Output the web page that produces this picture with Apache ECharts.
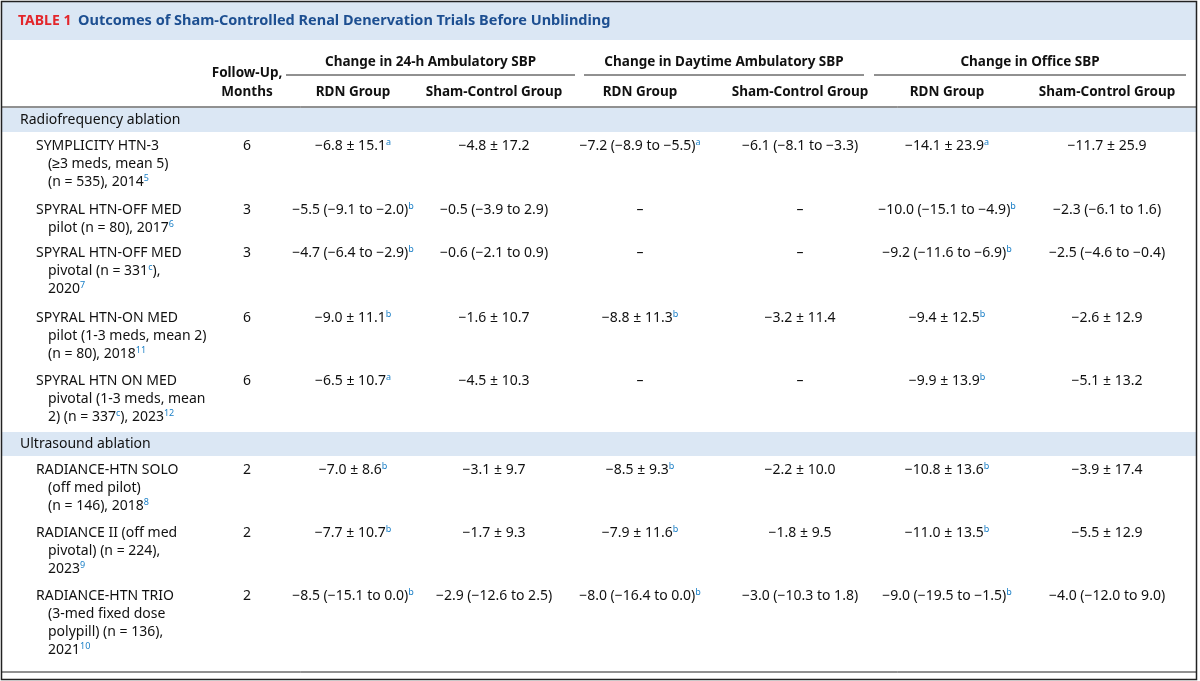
<!DOCTYPE html>
<html><head><meta charset="utf-8">
<script src="https://cdn.jsdelivr.net/npm/echarts@6/dist/echarts.min.js"></script>
<style>html,body{margin:0;background:#fff}#c{width:1200px;height:681px}</style>
</head><body><div id="c"></div>
<script>
// [x] marks a superscript
const groups = ['Change in 24-h Ambulatory SBP', 'Change in Daytime Ambulatory SBP', 'Change in Office SBP']
const subHeads = ['RDN Group', 'Sham-Control Group']
const sections = ['Radiofrequency ablation', 'Ultrasound ablation']
const trials = [
  ['SYMPLICITY HTN-3', '(\u22653 meds, mean 5)', '(n = 535), 2014[5]'],
  ['SPYRAL HTN-OFF MED', 'pilot (n = 80), 2017[6]'],
  ['SPYRAL HTN-OFF MED', 'pivotal (n = 331[c]),', '2020[7]'],
  ['SPYRAL HTN-ON MED', 'pilot (1-3 meds, mean 2)', '(n = 80), 2018[11]'],
  ['SPYRAL HTN ON MED', 'pivotal (1-3 meds, mean', '2) (n = 337[c]), 2023[12]'],
  ['RADIANCE-HTN SOLO', '(off med pilot)', '(n = 146), 2018[8]'],
  ['RADIANCE II (off med', 'pivotal) (n = 224),', '2023[9]'],
  ['RADIANCE-HTN TRIO', '(3-med fixed dose', 'polypill) (n = 136),', '2021[10]']
]
const trialSection = [0, 0, 0, 0, 0, 1, 1, 1]
const followUp = ['6', '3', '3', '6', '6', '2', '2', '2']
const rdn24 = ['\u22126.8 \u00b1 15.1[a]', '\u22125.5 (\u22129.1 to \u22122.0)[b]', '\u22124.7 (\u22126.4 to \u22122.9)[b]', '\u22129.0 \u00b1 11.1[b]', '\u22126.5 \u00b1 10.7[a]', '\u22127.0 \u00b1 8.6[b]', '\u22127.7 \u00b1 10.7[b]', '\u22128.5 (\u221215.1 to 0.0)[b]']
const sham24 = ['\u22124.8 \u00b1 17.2', '\u22120.5 (\u22123.9 to 2.9)', '\u22120.6 (\u22122.1 to 0.9)', '\u22121.6 \u00b1 10.7', '\u22124.5 \u00b1 10.3', '\u22123.1 \u00b1 9.7', '\u22121.7 \u00b1 9.3', '\u22122.9 (\u221212.6 to 2.5)']
const rdnDay = ['\u22127.2 (\u22128.9 to \u22125.5)[a]', '\u2013', '\u2013', '\u22128.8 \u00b1 11.3[b]', '\u2013', '\u22128.5 \u00b1 9.3[b]', '\u22127.9 \u00b1 11.6[b]', '\u22128.0 (\u221216.4 to 0.0)[b]']
const shamDay = ['\u22126.1 (\u22128.1 to \u22123.3)', '\u2013', '\u2013', '\u22123.2 \u00b1 11.4', '\u2013', '\u22122.2 \u00b1 10.0', '\u22121.8 \u00b1 9.5', '\u22123.0 (\u221210.3 to 1.8)']
const rdnOffice = ['\u221214.1 \u00b1 23.9[a]', '\u221210.0 (\u221215.1 to \u22124.9)[b]', '\u22129.2 (\u221211.6 to \u22126.9)[b]', '\u22129.4 \u00b1 12.5[b]', '\u22129.9 \u00b1 13.9[b]', '\u221210.8 \u00b1 13.6[b]', '\u221211.0 \u00b1 13.5[b]', '\u22129.0 (\u221219.5 to \u22121.5)[b]']
const shamOffice = ['\u221211.7 \u00b1 25.9', '\u22122.3 (\u22126.1 to 1.6)', '\u22122.5 (\u22124.6 to \u22120.4)', '\u22122.6 \u00b1 12.9', '\u22125.1 \u00b1 13.2', '\u22123.9 \u00b1 17.4', '\u22125.5 \u00b1 12.9', '\u22124.0 (\u221212.0 to 9.0)']

const font = '"Noto Sans", sans-serif'
const navy = '#1d4f91'
const band = '#dbe7f4'
const rowTop = [146, 210, 253, 318, 381, 470, 533, 596]
const sectionTop = [108, 432]
const colX = [247, 353, 494, 640, 800, 947, 1107]
const groupSpan = [[286, 575], [584, 864], [874, 1186]]

// turn "text[sup]" into rich text
function rich(s) {
  return s.split(/(\[[^\]]+\])/).filter(p => p).map(p =>
    p[0] === '[' ? '{s|' + p.slice(1, -1) + '}' : '{n|' + p + '}').join('')
}
const richStyle = {
  n: { fontSize: 14, fontFamily: font, fill: '#111' },
  s: { fontSize: 9, fontFamily: font, fill: '#1a7fc6', verticalAlign: 'top', padding: [0, 0, 8, 0] }
}
const els = []
function txt(x, y, s, align, extra) {
  els.push({ type: 'text', x, y, style: Object.assign({ text: rich(s), rich: richStyle, align: align || 'left', verticalAlign: 'middle' }, extra || {}) })
}
function rect(x, y, w, h, fill) {
  els.push({ type: 'rect', shape: { x, y, width: w, height: h }, style: { fill } })
}
function line(x1, y1, x2, y2, w) {
  els.push({ type: 'line', shape: { x1, y1, x2, y2 }, style: { stroke: '#222', lineWidth: w || 1 } })
}

rect(2, 2, 1194, 38, band)
els.push({ type: 'text', x: 18, y: 21, style: { text: '{r|TABLE 1}  {b|Outcomes of Sham-Controlled Renal Denervation Trials Before Unblinding}', verticalAlign: 'middle',
  rich: { r: { fill: '#e3262b', fontWeight: 'bold', fontSize: 14, fontFamily: font }, b: { fill: navy, fontWeight: 'bold', fontSize: 14.5, fontFamily: font } } } })
sectionTop.forEach((y, i) => { rect(2, y, 1194, 24, band); txt(20, y + 12, sections[i]) })
line(2, 107, 1196, 107)
line(2, 672, 1196, 672)
els.push({ type: 'rect', shape: { x: 1.5, y: 1.5, width: 1195, height: 678 }, style: { fill: null, stroke: '#222', lineWidth: 1.5 } })

const hb = { fontWeight: 'bold' }
const bold = s => ({ type: 'text', style: { text: s, fontSize: 13.5, fontWeight: 'bold', fontFamily: font, fill: '#111', align: 'center', verticalAlign: 'middle' } })
function btxt(x, y, s) { const e = bold(s); e.x = x; e.y = y; els.push(e) }
btxt(colX[0], 73, 'Follow-Up,')
btxt(colX[0], 92, 'Months')
groups.forEach((g, i) => {
  btxt((groupSpan[i][0] + groupSpan[i][1]) / 2, 62, g)
  line(groupSpan[i][0], 75, groupSpan[i][1], 75)
  btxt(colX[1 + 2 * i], 92, subHeads[0])
  btxt(colX[2 + 2 * i], 92, subHeads[1])
})

const cols = [followUp, rdn24, sham24, rdnDay, shamDay, rdnOffice, shamOffice]
trials.forEach((t, r) => {
  const y = rowTop[r]
  t.forEach((l, k) => txt(k ? 48 : 36, y + k * 18, l))
  cols.forEach((c, j) => txt(colX[j], y, c[r], 'center'))
})

const chart = echarts.init(document.getElementById('c'))
chart.setOption({ animation: false, graphic: { elements: els } })
</script></body></html>
